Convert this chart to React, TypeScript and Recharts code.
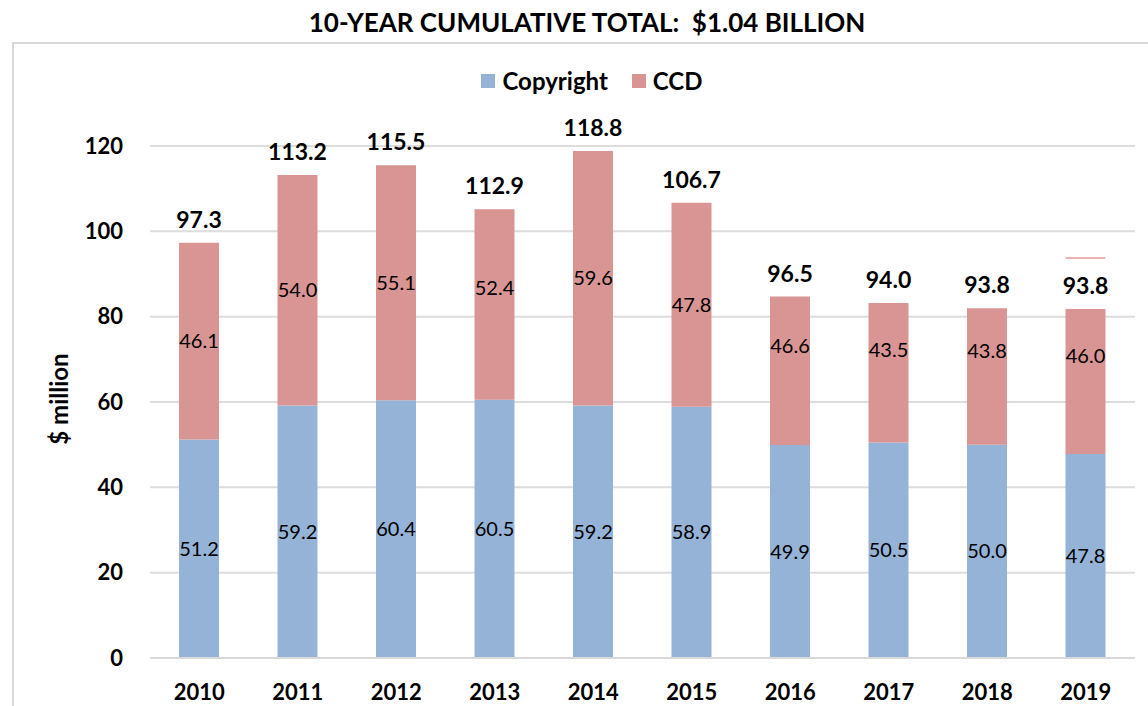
import { BarChart, Bar, XAxis, YAxis, CartesianGrid, Legend, LabelList } from 'recharts'

const FONT = 'Lato, "DejaVu Sans", sans-serif'
const BLUE = '#95B3D7'
const PINK = '#D99594'

const years = ['2010', '2011', '2012', '2013', '2014', '2015', '2016', '2017', '2018', '2019']
const copyright = [51.2, 59.2, 60.4, 60.5, 59.2, 58.9, 49.9, 50.5, 50.0, 47.8]
// CCD segment as it is drawn; in the source the later bars stop short of the printed totals
const ccdDrawn = [46.1, 54.0, 55.1, 44.7, 59.6, 47.8, 34.8, 32.7, 32.0, 34.0]
const ccdLabels = [46.1, 54.0, 55.1, 52.4, 59.6, 47.8, 46.6, 43.5, 43.8, 46.0]
const totals = [97.3, 113.2, 115.5, 112.9, 118.8, 106.7, 96.5, 94.0, 93.8, 93.8]
// stray thin marker above the 2019 bar
const markerGap = [0, 0, 0, 0, 0, 0, 0, 0, 0, 11.8]
const markerLine = [0, 0, 0, 0, 0, 0, 0, 0, 0, 0.35]
const yTicks = [0, 20, 40, 60, 80, 100, 120]
const legendOrder = ['Copyright', 'CCD']

const data = years.map((year, i) => ({
  year,
  copyright: copyright[i],
  ccd: ccdDrawn[i],
  gap: markerGap[i],
  marker: markerLine[i],
}))

function CopyrightLabel(props: any) {
  const { x, y, width, height, index } = props
  return (
    <text x={x + width / 2} y={y + height / 2} dy="0.35em" textAnchor="middle"
      fontFamily={FONT} fontSize={20} fill="#000">
      {copyright[index].toFixed(1)}
    </text>
  )
}

// CCD numbers sit at the middle of the segment their value describes
function CcdLabel(props: any) {
  const { x, y, width, height, index } = props
  const pxPerUnit = height / ccdDrawn[index]
  const bottom = y + height
  const cy = bottom - (ccdLabels[index] / 2) * pxPerUnit
  return (
    <text x={x + width / 2} y={cy} dy="0.35em" textAnchor="middle"
      fontFamily={FONT} fontSize={20} fill="#000">
      {ccdLabels[index].toFixed(1)}
    </text>
  )
}

function TotalLabel(props: any) {
  const { x, y, width, index } = props
  return (
    <text x={x + width / 2} y={y - 23} dy="0.35em" textAnchor="middle"
      fontFamily={FONT} fontSize={23} fontWeight={700} fill="#000">
      {totals[index].toFixed(1)}
    </text>
  )
}

function LegendRow({ payload }: any) {
  const items = (payload || [])
    .filter((p: any) => p.type !== 'none')
    .sort((a: any, b: any) => legendOrder.indexOf(a.value) - legendOrder.indexOf(b.value))
  return (
    <div style={{ display: 'flex', justifyContent: 'center', alignItems: 'center', fontFamily: FONT, fontWeight: 700, fontSize: 24, color: '#000' }}>
      {items.map((p: any) => (
        <div key={p.value} style={{ display: 'flex', alignItems: 'center', margin: '0 12px' }}>
          <span style={{ width: 14, height: 14, background: p.color, marginRight: 7, display: 'inline-block' }} />
          <span>{p.value}</span>
        </div>
      ))}
    </div>
  )
}

function YLabel(props: any) {
  const { viewBox } = props
  const cy = viewBox.y + viewBox.height / 2 - 3
  return (
    <text x={60} y={cy} dy="0.35em" textAnchor="middle" transform={`rotate(-90, 60, ${cy})`}
      fontFamily={FONT} fontSize={24} fontWeight={700} fill="#000">
      $ million
    </text>
  )
}

export default function App() {
  return (
    <div style={{ position: 'fixed', left: 0, top: 0, width: 1148, height: 706, overflow: 'hidden', background: '#fff' }}>
      <div style={{ position: 'absolute', left: 12, top: 42, width: 1160, height: 700, border: '2px solid #D9D9D9' }} />
      <div style={{ position: 'absolute', top: 6, left: 26, width: 1122, textAlign: 'center', fontFamily: FONT, fontWeight: 700, fontSize: 26, color: '#000' }}>
        10-YEAR CUMULATIVE TOTAL:&nbsp; $1.04 BILLION
      </div>
      <div style={{ position: 'absolute', left: 0, top: 0 }}>
        <BarChart width={1148} height={706} data={data} margin={{ top: 146, right: 13, bottom: 0, left: 0 }}>
          <CartesianGrid vertical={false} stroke="#DDDDDD" strokeWidth={2} />
          <XAxis dataKey="year" height={48} tickLine={false} tickSize={0} tickMargin={26}
            axisLine={{ stroke: '#D9D9D9', strokeWidth: 2 }}
            tick={{ fontFamily: FONT, fontSize: 22, fontWeight: 700, fill: '#000' }} interval={0} />
          <YAxis width={150} domain={[0, 120]} ticks={yTicks} axisLine={false} tickLine={false}
            tickSize={0} tickMargin={27}
            tick={{ fontFamily: FONT, fontSize: 22, fontWeight: 700, fill: '#000' }}
            label={<YLabel />} />
          <Legend layout="horizontal" verticalAlign="middle" align="center" content={<LegendRow />}
            wrapperStyle={{ top: 66, left: 36, width: 1112 }} />
          <Bar dataKey="copyright" name="Copyright" stackId="a" fill={BLUE} barSize={40}
            legendType="square" isAnimationActive={false}>
            <LabelList dataKey="copyright" content={<CopyrightLabel />} />
          </Bar>
          <Bar dataKey="ccd" name="CCD" stackId="a" fill={PINK} barSize={40}
            legendType="square" isAnimationActive={false}>
            <LabelList dataKey="ccd" content={<CcdLabel />} />
            <LabelList dataKey="ccd" content={<TotalLabel />} />
          </Bar>
          <Bar dataKey="gap" stackId="a" fill="transparent" barSize={40} legendType="none" isAnimationActive={false} />
          <Bar dataKey="marker" stackId="a" fill="#E49A9A" barSize={40} legendType="none" isAnimationActive={false} />
        </BarChart>
      </div>
    </div>
  )
}
